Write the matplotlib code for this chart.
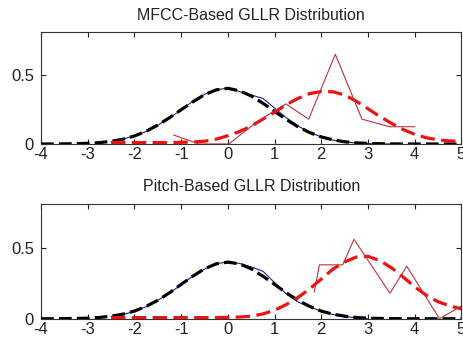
import numpy as np
import matplotlib
matplotlib.use('Agg')
import matplotlib.pyplot as plt

plt.rcParams['font.family'] = ['Liberation Sans', 'DejaVu Sans']
plt.rcParams['axes.unicode_minus'] = False

# grid used for the fitted curves (read every 0.25)
x_fit = [-4, -3.75, -3.5, -3.25, -3, -2.75, -2.5, -2.25, -2, -1.75, -1.5, -1.25,
         -1, -0.75, -0.5, -0.25, 0, 0.25, 0.5, 0.75, 1, 1.25, 1.5, 1.75,
         2, 2.25, 2.5, 2.75, 3, 3.25, 3.5, 3.75, 4, 4.25, 4.5, 4.75, 5]

# --- MFCC panel ---
mfcc_impostor_fit = [0, 0, 0.001, 0.002, 0.005, 0.01, 0.019, 0.034, 0.058, 0.092, 0.137, 0.19,
                     0.248, 0.305, 0.357, 0.392, 0.403, 0.385, 0.348, 0.295, 0.236, 0.178, 0.125, 0.083,
                     0.051, 0.03, 0.016, 0.008, 0.004, 0.002, 0.001, 0, 0, 0, 0, 0, 0]
x_mfcc_imp = [-2.5, -2.25, -2, -1.75, -1.5, -1.25, -1, -0.75, -0.5, -0.25, 0, 0.25,
              0.5, 0.75, 1, 1.25, 1.5, 1.75, 2, 2.25, 2.5, 2.75, 3, 3.25, 3.5]
mfcc_impostor_emp = [0.015, 0.035, 0.06, 0.09, 0.135, 0.19, 0.245, 0.31, 0.36, 0.392, 0.405, 0.38,
                     0.355, 0.33, 0.26, 0.19, 0.13, 0.085, 0.05, 0.028, 0.015, 0.007, 0.003, 0.001, 0]
x_mfcc_tgt_fit = x_fit[6:]
mfcc_target_fit = [0.01, 0.01, 0.01, 0.01, 0.01, 0.01,
                   0.012, 0.015, 0.02, 0.035, 0.06, 0.09, 0.13, 0.18, 0.23, 0.285, 0.33, 0.365,
                   0.38, 0.378, 0.355, 0.31, 0.255, 0.2, 0.15, 0.105, 0.07, 0.045, 0.03, 0.022, 0.02]
x_mfcc_hist = [-1.16, -0.62, 0.02, 0.62, 1.24, 1.73, 2.30, 2.87, 3.46, 4.0]
mfcc_target_hist = [0.065, 0.0, 0.0, 0.16, 0.29, 0.18, 0.65, 0.18, 0.125, 0.125]

# --- Pitch panel ---
pitch_impostor_fit = [0, 0, 0.001, 0.002, 0.004, 0.009, 0.018, 0.032, 0.054, 0.087, 0.13, 0.183,
                      0.242, 0.3, 0.352, 0.387, 0.399, 0.387, 0.352, 0.3, 0.242, 0.183, 0.13, 0.087,
                      0.054, 0.032, 0.018, 0.009, 0.004, 0.002, 0.001, 0, 0, 0, 0, 0, 0]
x_pitch_imp = [-2.5, -2.25, -2, -1.75, -1.5, -1.25, -1, -0.75, -0.5, -0.25, 0, 0.25,
               0.5, 0.75, 1, 1.25, 1.5, 1.75, 2, 2.25, 2.5, 2.75, 3]
pitch_impostor_emp = [0.017, 0.03, 0.052, 0.085, 0.13, 0.18, 0.24, 0.3, 0.35, 0.388, 0.4, 0.39,
                      0.365, 0.335, 0.255, 0.175, 0.118, 0.085, 0.052, 0.03, 0.016, 0.006, 0.0]
x_pitch_tgt_fit = x_fit[6:]
pitch_target_fit = [0.008, 0.008, 0.008, 0.008, 0.008, 0.008, 0.008, 0.008, 0.008, 0.008, 0.01, 0.012,
                    0.018, 0.034, 0.06, 0.1, 0.15, 0.21, 0.28, 0.35, 0.4, 0.435, 0.44, 0.41,
                    0.36, 0.295, 0.225, 0.165, 0.12, 0.09, 0.07]
x_pitch_hist = [1.85, 1.96, 2.46, 2.70, 3.47, 3.83, 4.53, 5.0]
pitch_target_hist = [0.19, 0.38, 0.38, 0.56, 0.18, 0.37, 0.0, 0.09]

titles = ['MFCC-Based GLLR Distribution', 'Pitch-Based GLLR Distribution']

fig = plt.figure(figsize=(4.63, 3.42), dpi=100)
ax1 = fig.add_axes([0.0886, 0.579, 0.908, 0.327])
ax2 = fig.add_axes([0.0886, 0.068, 0.908, 0.336])

panels = [
    (ax1, mfcc_impostor_fit, x_mfcc_imp, mfcc_impostor_emp, x_mfcc_tgt_fit, mfcc_target_fit,
     x_mfcc_hist, mfcc_target_hist, titles[0]),
    (ax2, pitch_impostor_fit, x_pitch_imp, pitch_impostor_emp, x_pitch_tgt_fit, pitch_target_fit,
     x_pitch_hist, pitch_target_hist, titles[1]),
]

for ax, imp_fit, x_emp, imp_emp, x_tf, tgt_fit, x_h, tgt_h, title in panels:
    ax.plot(x_emp, imp_emp, color='#1c1c9c', lw=0.8, zorder=2)
    ax.plot(x_fit, imp_fit, color='black', lw=2.3, dashes=(4, 1.6), zorder=3)
    ax.plot(x_tf, tgt_fit, color='#ee1111', lw=2.3, dashes=(4.5, 2), zorder=4)
    ax.plot(x_h, tgt_h, color='#c0303a', lw=0.8, zorder=5)

    ax.set_xlim(-4, 5)
    ax.set_ylim(0, 0.81)
    ax.set_xticks(range(-4, 6))
    ax.set_yticks([0, 0.5])
    ax.set_yticklabels(['0', '0.5'])
    ax.tick_params(direction='in', top=True, right=True, length=3.5, width=0.8,
                   labelsize=12, colors='#222222')
    ax.tick_params(axis='x', pad=2)
    ax.tick_params(axis='y', pad=5)
    for s in ax.spines.values():
        s.set_linewidth(0.8)
        s.set_color('#333333')
    ax.set_title(title, fontsize=11.5, pad=9, color='#222222')

fig.savefig('out.png', dpi=100)
